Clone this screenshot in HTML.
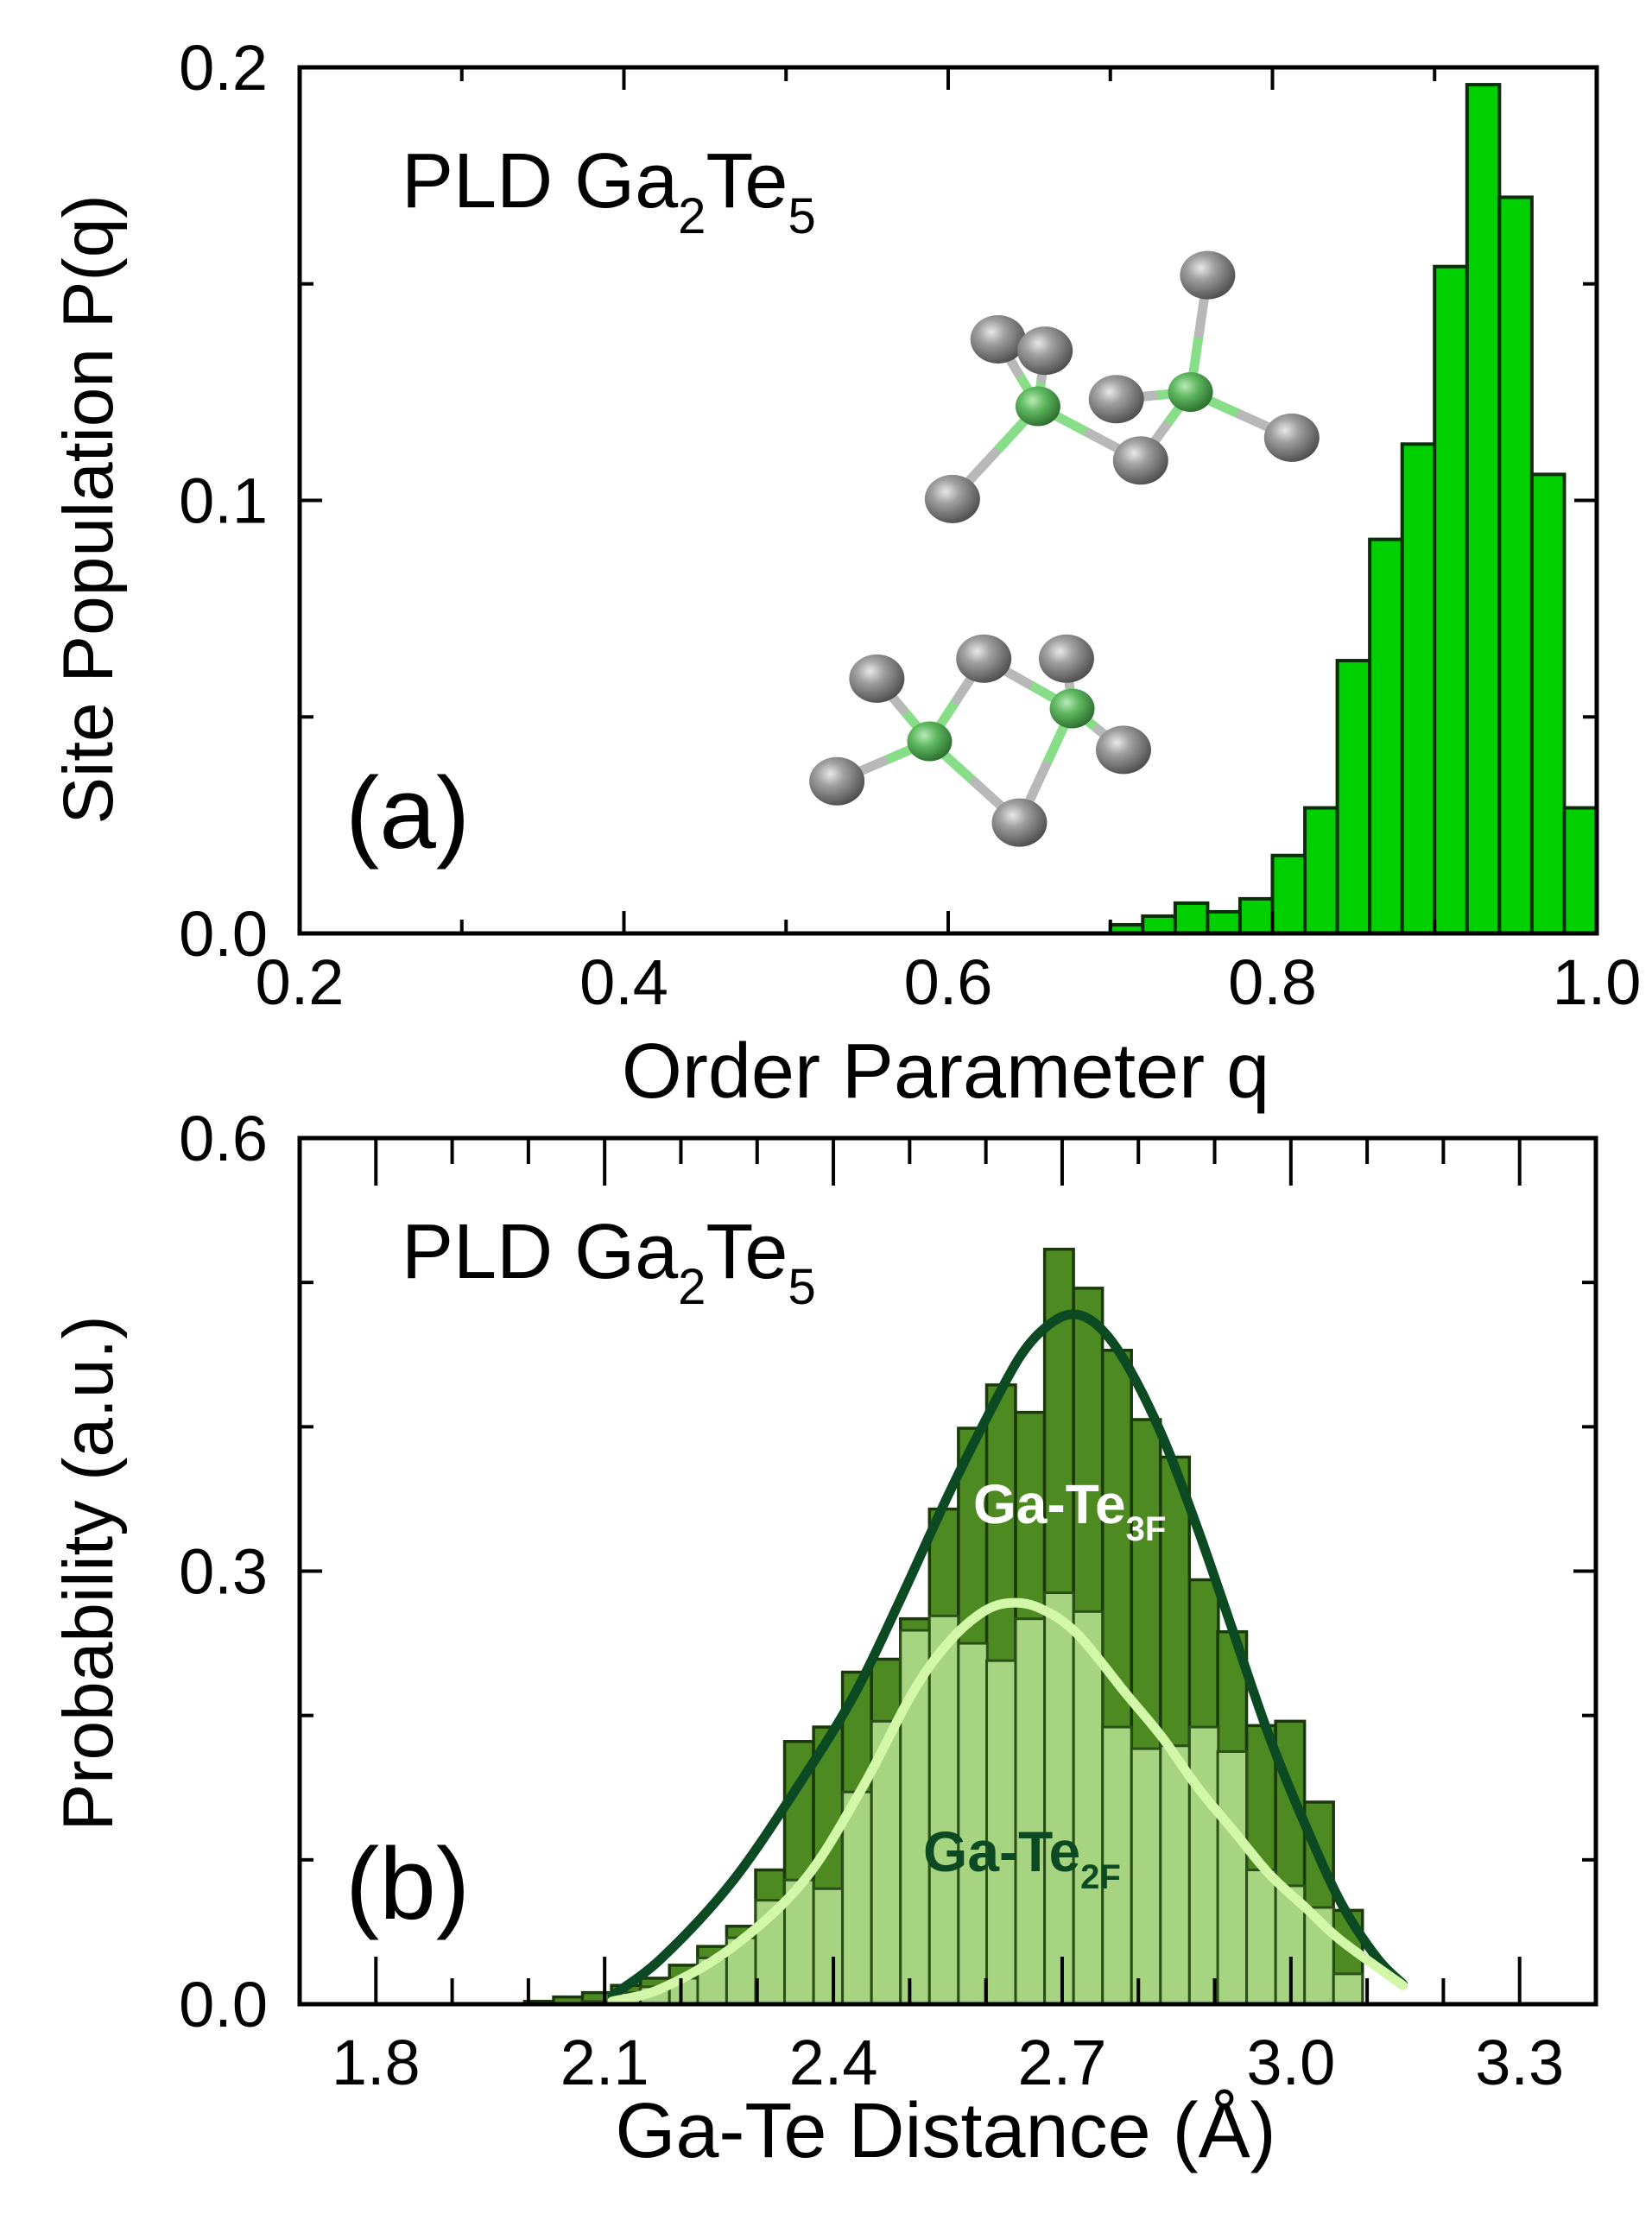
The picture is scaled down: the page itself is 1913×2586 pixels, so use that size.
<!DOCTYPE html>
<html><head><meta charset="utf-8">
<style>
html,body{margin:0;padding:0;background:#fff;}
svg{display:block;font-family:"Liberation Sans",Arial,sans-serif;}
</style></head>
<body>
<svg id="fig" width="1913" height="2586" viewBox="0 0 1913 2586" xmlns="http://www.w3.org/2000/svg">
<defs>
<radialGradient id="te" cx="0.38" cy="0.35" r="0.7">
<stop offset="0" stop-color="#e8e8e8"/><stop offset="0.35" stop-color="#a0a0a0"/><stop offset="1" stop-color="#4a4a4a"/>
</radialGradient>
<radialGradient id="ga" cx="0.38" cy="0.35" r="0.7">
<stop offset="0" stop-color="#b8eab8"/><stop offset="0.4" stop-color="#5fb860"/><stop offset="1" stop-color="#2a6a2c"/>
</radialGradient>
</defs>
<g id="topPlot"></g>
<g id="molecules"></g>
<g id="botPlot"></g>
</svg>
<script>
// ---- Panel (a) data ----
const qBinStart = [0.70,0.72,0.74,0.76,0.78,0.80,0.82,0.84,0.86,0.88,0.90,0.92,0.94,0.96,0.98];
const qValues = [0.002,0.004,0.007,0.005,0.008,0.018,0.029,0.063,0.091,0.113,0.154,0.196,0.170,0.106,0.029];
const qBinWidth = 0.02;
const qTickLabels = ["0.2","0.4","0.6","0.8","1.0"];
const pTickLabels = ["0.0","0.1","0.2"];

// ---- Panel (b) data ----
const dBinStart = [1.995,2.033,2.071,2.109,2.147,2.185,2.222,2.260,2.298,2.336,2.374,2.412,2.450,2.488,2.526,2.564,2.601,2.639,2.677,2.715,2.753,2.791,2.829,2.867,2.904,2.942,2.980,3.018,3.056];
const dBinWidth = 0.0379;
const te3fValues = [0.002,0.005,0.008,0.013,0.018,0.027,0.040,0.054,0.093,0.182,0.192,0.230,0.239,0.267,0.343,0.399,0.429,0.410,0.523,0.496,0.453,0.405,0.379,0.294,0.258,0.193,0.196,0.140,0.065];
const te2fValues = [0,0,0.002,0.008,0.012,0.018,0.032,0.046,0.072,0.086,0.080,0.147,0.196,0.259,0.269,0.250,0.238,0.267,0.285,0.272,0.192,0.177,0.179,0.192,0.175,0.093,0.082,0.067,0.021];
const fit3fX = [2.110,2.175,2.269,2.362,2.428,2.484,2.550,2.597,2.644,2.681,2.714,2.747,2.784,2.831,2.878,2.925,2.972,3.019,3.066,3.113,3.147];
const fit3fY = [0.006,0.032,0.086,0.158,0.215,0.276,0.352,0.402,0.448,0.470,0.478,0.470,0.444,0.394,0.329,0.257,0.185,0.124,0.070,0.032,0.014];
const fit2fX = [2.110,2.175,2.269,2.362,2.438,2.503,2.550,2.597,2.634,2.672,2.719,2.784,2.831,2.878,2.925,2.972,3.019,3.066,3.147];
const fit2fY = [0.002,0.011,0.040,0.086,0.150,0.215,0.250,0.272,0.278,0.274,0.257,0.215,0.185,0.150,0.120,0.090,0.067,0.044,0.013];
const dTickLabels = ["1.8","2.1","2.4","2.7","3.0","3.3"];
const probTickLabels = ["0.0","0.3","0.6"];

const NS="http://www.w3.org/2000/svg";
function mk(tag, attrs, parent){const e=document.createElementNS(NS,tag);for(const k in attrs)e.setAttribute(k,attrs[k]);parent.appendChild(e);return e;}
const PLD='PLD Ga<tspan font-size="58" dy="30">2</tspan><tspan dy="-30">Te</tspan><tspan font-size="58" dy="30">5</tspan>';

// ---------- Panel (a) ----------
const A={x0:347,x1:1849,y0:1081,y1:78,xmin:0.2,xmax:1.0,ymin:0,ymax:0.2};
const ax=v=>A.x0+(v-A.xmin)/(A.xmax-A.xmin)*(A.x1-A.x0);
const ay=v=>A.y0-(v-A.ymin)/(A.ymax-A.ymin)*(A.y0-A.y1);
const topG=document.getElementById('topPlot');
for(let i=0;i<qValues.length;i++){
  const r=mk('rect',{x:ax(qBinStart[i]),y:ay(qValues[i]),width:ax(qBinStart[i]+qBinWidth)-ax(qBinStart[i]),height:ay(0)-ay(qValues[i]),fill:'#00d000',stroke:'#0a2e0a','stroke-width':4},topG);
  
  
}
{
  const f=mk('rect',{x:A.x0,y:A.y1,width:A.x1-A.x0,height:A.y0-A.y1,fill:'none',stroke:'#000','stroke-width':5},topG);
  
  for(let k=0;k<=8;k++){
    const v=0.2+k*0.1;
    const major=(k%2===0);const L=major?26:16;
    mk('line',{x1:ax(v),x2:ax(v),y1:A.y0,y2:A.y0-L,stroke:'#000','stroke-width':4},topG);
    mk('line',{x1:ax(v),x2:ax(v),y1:A.y1,y2:A.y1+L,stroke:'#000','stroke-width':4},topG);
  }
  for(let k=0;k<=4;k++){
    const v=k*0.05;
    const major=(k%2===0);const L=major?26:16;
    mk('line',{x1:A.x0,x2:A.x0+L,y1:ay(v),y2:ay(v),stroke:'#000','stroke-width':4},topG);
    mk('line',{x1:A.x1,x2:A.x1-L,y1:ay(v),y2:ay(v),stroke:'#000','stroke-width':4},topG);
  }
  qTickLabels.forEach(s=>{const t=mk('text',{x:ax(parseFloat(s)),y:1163,'font-size':74,'text-anchor':'middle'},topG);t.textContent=s;
    });
  pTickLabels.forEach(s=>{const t=mk('text',{x:310,y:ay(parseFloat(s))+26,'font-size':74,'text-anchor':'end'},topG);t.textContent=s;
    });
  let t=mk('text',{x:1095,y:1271,'font-size':90,'text-anchor':'middle'},topG);t.textContent='Order Parameter q';
  
  t=mk('text',{x:0,y:0,'font-size':82,'text-anchor':'middle',transform:'translate(130,590) rotate(-90)'},topG);t.textContent='Site Population P(q)';
  
  t=mk('text',{x:465,y:240,'font-size':90},topG);
  t.innerHTML=PLD;
  
  t=mk('text',{x:400,y:982,'font-size':118},topG);t.textContent='(a)';
  
}

// ---------- Molecules ----------
const mol=document.getElementById('molecules');
const S=1.651;
function molecule(ga,te,bonds,name){
  const g=mk('g',{},mol);
  bonds.forEach(([a,b])=>{
    const p=ga[a],q=te[b];const mx=(p[0]+q[0])/2,my=(p[1]+q[1])/2;
    mk('line',{x1:p[0]*S,y1:p[1]*S,x2:mx*S,y2:my*S,stroke:'#88dd88','stroke-width':11,'stroke-linecap':'round'},g);
    mk('line',{x1:mx*S,y1:my*S,x2:q[0]*S,y2:q[1]*S,stroke:'#b8b8b8','stroke-width':11,'stroke-linecap':'round'},g);
  });
  te.forEach(p=>mk('ellipse',{cx:p[0]*S,cy:p[1]*S,rx:32,ry:28,fill:'url(#te)'},g));
  ga.forEach(p=>mk('ellipse',{cx:p[0]*S,cy:p[1]*S,rx:26,ry:23,fill:'url(#ga)'},g));
}
molecule([[728,285],[835,275]],[[700,238],[733,246],[668,350],[800,323],[783,280],[847,193],[906,307]],
  [[0,0],[0,1],[0,2],[0,3],[1,3],[1,4],[1,5],[1,6]],'molecule-chain');
molecule([[652,520],[752,497]],[[615,476],[690,462],[748,462],[587,548],[715,577],[788,526]],
  [[0,0],[0,1],[0,3],[0,4],[1,1],[1,2],[1,5],[1,4]],'molecule-ring');

// ---------- Panel (b) ----------
const B={x0:347,x1:1848,y0:2321,y1:1318,xmin:1.7,xmax:3.4,ymin:0,ymax:0.6};
const bx=v=>B.x0+(v-B.xmin)/(B.xmax-B.xmin)*(B.x1-B.x0);
const by=v=>B.y0-(v-B.ymin)/(B.ymax-B.ymin)*(B.y0-B.y1);
const botG=document.getElementById('botPlot');
for(let i=0;i<te3fValues.length;i++){
  const r=mk('rect',{x:bx(dBinStart[i]),y:by(te3fValues[i]),width:bx(dBinStart[i]+dBinWidth)-bx(dBinStart[i]),height:by(0)-by(te3fValues[i]),fill:'#4d8a22',stroke:'#1a3a0c','stroke-width':3.5},botG);
  
  
}
for(let i=0;i<te2fValues.length;i++){
  if(te2fValues[i]<=0)continue;
  const r=mk('rect',{x:bx(dBinStart[i]),y:by(te2fValues[i]),width:bx(dBinStart[i]+dBinWidth)-bx(dBinStart[i]),height:by(0)-by(te2fValues[i]),fill:'#a6d480',stroke:'#2a5018','stroke-width':3},botG);
  
  
}
function smoothPath(xs,ys){
  const P=xs.map((x,i)=>[bx(x),by(ys[i])]);
  let d='M'+P[0][0]+','+P[0][1];
  for(let i=0;i<P.length-1;i++){
    const p0=P[i-1]||P[i],p1=P[i],p2=P[i+1],p3=P[i+2]||P[i+1];
    const c1=[p1[0]+(p2[0]-p0[0])/6,p1[1]+(p2[1]-p0[1])/6];
    const c2=[p2[0]-(p3[0]-p1[0])/6,p2[1]-(p3[1]-p1[1])/6];
    d+=' C'+c1[0]+','+c1[1]+' '+c2[0]+','+c2[1]+' '+p2[0]+','+p2[1];
  }
  return d;
}
{
  let c=mk('path',{d:smoothPath(fit3fX,fit3fY),fill:'none',stroke:'#0b4a22','stroke-width':11,'stroke-linecap':'round'},botG);
  
  c=mk('path',{d:smoothPath(fit2fX,fit2fY),fill:'none',stroke:'#d2f7a8','stroke-width':11,'stroke-linecap':'round'},botG);
  

  const f=mk('rect',{x:B.x0,y:B.y1,width:B.x1-B.x0,height:B.y0-B.y1,fill:'none',stroke:'#000','stroke-width':5},botG);
  
  for(let k=0;k<=15;k++){
    const v=1.8+k*0.1;
    const major=(k%3===0);const L=major?55:30;
    mk('line',{x1:bx(v),x2:bx(v),y1:B.y0,y2:B.y0-L,stroke:'#000','stroke-width':4},botG);
    mk('line',{x1:bx(v),x2:bx(v),y1:B.y1,y2:B.y1+L,stroke:'#000','stroke-width':4},botG);
  }
  for(let k=0;k<=6;k++){
    const v=k*0.1;const major=(k%3===0);const L=major?26:16;
    mk('line',{x1:B.x0,x2:B.x0+L,y1:by(v),y2:by(v),stroke:'#000','stroke-width':4},botG);
    mk('line',{x1:B.x1,x2:B.x1-L,y1:by(v),y2:by(v),stroke:'#000','stroke-width':4},botG);
  }
  dTickLabels.forEach(s=>{const t=mk('text',{x:bx(parseFloat(s)),y:2414,'font-size':74,'text-anchor':'middle'},botG);t.textContent=s;
    });
  probTickLabels.forEach(s=>{const t=mk('text',{x:310,y:by(parseFloat(s))+26,'font-size':74,'text-anchor':'end'},botG);t.textContent=s;
    });
  let t=mk('text',{x:1095,y:2498,'font-size':90,'text-anchor':'middle'},botG);t.textContent='Ga-Te Distance (Å)';
  
  t=mk('text',{x:0,y:0,'font-size':82,'text-anchor':'middle',transform:'translate(130,1822) rotate(-90)'},botG);t.textContent='Probability (a.u.)';
  
  t=mk('text',{x:465,y:1480,'font-size':90},botG);
  t.innerHTML=PLD;
  
  t=mk('text',{x:400,y:2222,'font-size':118},botG);t.textContent='(b)';
  
  t=mk('text',{x:1127,y:1764,'font-size':64,'font-weight':'bold',fill:'#ffffff'},botG);
  t.innerHTML='Ga-Te<tspan font-size="40" dy="20">3F</tspan>';
  
  t=mk('text',{x:1069,y:2167,'font-size':66,'font-weight':'bold',fill:'#0b4a22'},botG);
  t.innerHTML='Ga-Te<tspan font-size="40" dy="20">2F</tspan>';
  
}
</script>
</body></html>
